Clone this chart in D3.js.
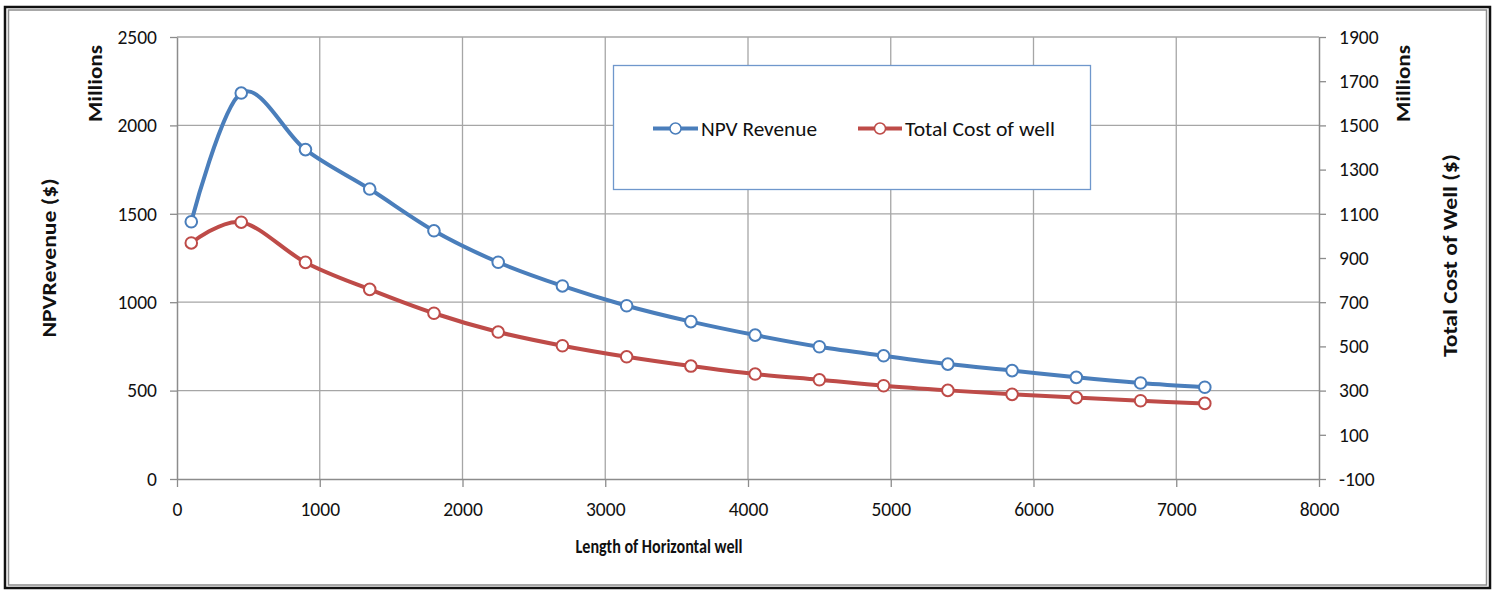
<!DOCTYPE html>
<html>
<head>
<meta charset="utf-8">
<script src="https://cdn.jsdelivr.net/npm/d3@7"></script>
<style>
  html, body { margin: 0; padding: 0; background: #fff; }
  svg { display: block; }
  text { font-family: Carlito, Calibri, Lato, "Open Sans", sans-serif; fill: #111; }
</style>
</head>
<body>
<svg id="chart" width="1495" height="590"></svg>
<script>
// ---- data ----
const lengths = [100, 450, 900, 1350, 1800, 2250, 2700, 3150, 3600, 4050, 4500, 4950, 5400, 5850, 6300, 6750, 7200];
const npvRevenue = [1455, 2183, 1863, 1640, 1404, 1226, 1092, 980, 890, 814, 748, 697, 650, 613, 575, 543, 519];
const totalCost = [968, 1062, 880, 758, 650, 565, 503, 453, 411, 375, 349, 322, 301, 283, 268, 254, 242];
const xTicks = [0, 1000, 2000, 3000, 4000, 5000, 6000, 7000, 8000];
const leftTicks = [0, 500, 1000, 1500, 2000, 2500];
const rightTicks = [-100, 100, 300, 500, 700, 900, 1100, 1300, 1500, 1700, 1900];
const seriesNames = ["NPV Revenue", "Total Cost of well"];
const seriesColors = ["#4a7ebb", "#be4b48"];

// ---- layout ----
const svg = d3.select("#chart");
const plot = { left: 177, right: 1319, top: 37, bottom: 479 };

const x = d3.scaleLinear().domain([0, 8000]).range([plot.left, plot.right]);
const yL = d3.scaleLinear().domain([0, 2500]).range([plot.bottom, plot.top]);
const yR = d3.scaleLinear().domain([-100, 1900]).range([plot.bottom, plot.top]);

// frame
svg.append("rect").attr("x", 5).attr("y", 7).attr("width", 1485).attr("height", 581)
  .attr("fill", "#fff").attr("stroke", "#111").attr("stroke-width", 2.5);
svg.append("rect").attr("x", 8.5).attr("y", 10).attr("width", 1478).attr("height", 575)
  .attr("fill", "none").attr("stroke", "#8c8c8c").attr("stroke-width", 1.5);

const gridColor = "#a6a6a6";
const axisColor = "#8c8c8c";

// gridlines
const grid = svg.append("g");
grid.selectAll(".hg").data(leftTicks.filter(d => d > 0)).join("line")
  .attr("x1", plot.left).attr("x2", plot.right)
  .attr("y1", d => yL(d)).attr("y2", d => yL(d))
  .attr("stroke", gridColor).attr("stroke-width", 1.3);
grid.selectAll(".vg").data(xTicks.filter(d => d > 0 && d < 8000)).join("line")
  .attr("x1", d => x(d)).attr("x2", d => x(d))
  .attr("y1", plot.top).attr("y2", plot.bottom)
  .attr("stroke", gridColor).attr("stroke-width", 1.3);

// axes
const fmt = d => String(d);
function styleAxis(g) {
  g.selectAll(".domain").attr("stroke", axisColor).attr("stroke-width", 1.5);
  g.selectAll(".tick line").attr("stroke", axisColor).attr("stroke-width", 1.3);
  g.selectAll(".tick text").attr("font-size", 19.5).attr("fill", "#111")
    .style("font-family", "Carlito, Calibri, Lato, sans-serif");
}
const gx = svg.append("g").attr("transform", `translate(0,${plot.bottom})`)
  .call(d3.axisBottom(x).tickValues(xTicks).tickFormat(fmt).tickSize(8).tickSizeOuter(0).tickPadding(15));
styleAxis(gx);
const gl = svg.append("g").attr("transform", `translate(${plot.left},0)`)
  .call(d3.axisLeft(yL).tickValues(leftTicks).tickFormat(fmt).tickSize(7).tickSizeOuter(0).tickPadding(13));
styleAxis(gl);
const gr = svg.append("g").attr("transform", `translate(${plot.right},0)`)
  .call(d3.axisRight(yR).tickValues(rightTicks).tickFormat(fmt).tickSize(7).tickSizeOuter(0).tickPadding(13));
styleAxis(gr);

// axis titles
function title(tx, ty, rot, txt, len, size) {
  svg.append("text").attr("transform", `translate(${tx},${ty}) rotate(${rot})`)
    .attr("text-anchor", "middle").attr("font-size", size).attr("font-weight", "bold")
    .attr("textLength", len).attr("lengthAdjust", "spacingAndGlyphs").text(txt);
}
title(102, 83.5, -90, "Millions", 77, 20);
title(56, 258, -90, "NPVRevenue ($)", 159, 20);
title(1410, 83.5, -90, "Millions", 77, 20);
title(1457, 255.5, -90, "Total Cost of Well ($)", 203, 20);
title(659, 552.5, 0, "Length of Horizontal well", 167, 20.5);

// series
const series = [
  { name: seriesNames[0], color: seriesColors[0], y: yL, values: npvRevenue },
  { name: seriesNames[1], color: seriesColors[1], y: yR, values: totalCost }
];
const curve = d3.curveCatmullRom.alpha(0);
series.forEach(s => {
  const pts = lengths.map((l, i) => [l, s.values[i]]);
  const line = d3.line().x(d => x(d[0])).y(d => s.y(d[1])).curve(curve);
  svg.append("path").datum(pts).attr("d", line)
    .attr("fill", "none").attr("stroke", s.color).attr("stroke-width", 4)
    .attr("stroke-linejoin", "round").attr("stroke-linecap", "round");
  svg.append("g").selectAll("circle").data(pts).join("circle")
    .attr("cx", d => x(d[0])).attr("cy", d => s.y(d[1])).attr("r", 5.8)
    .attr("fill", "#fff").attr("stroke", s.color).attr("stroke-width", 2);
});

// legend
const lg = svg.append("g");
lg.append("rect").attr("x", 613.5).attr("y", 65.5).attr("width", 477).attr("height", 124)
  .attr("fill", "#fff").attr("stroke", "#6f97cc").attr("stroke-width", 1.3);
const legendItems = [
  { x0: 653, x1: 698, tx: 701, len: 116 },
  { x0: 858, x1: 902, tx: 905, len: 150 }
];
series.forEach((s, i) => {
  const it = legendItems[i];
  const ly = 128.5;
  lg.append("line").attr("x1", it.x0).attr("x2", it.x1).attr("y1", ly).attr("y2", ly)
    .attr("stroke", s.color).attr("stroke-width", 4);
  lg.append("circle").attr("cx", (it.x0 + it.x1) / 2).attr("cy", ly).attr("r", 5.5)
    .attr("fill", "#fff").attr("stroke", s.color).attr("stroke-width", 1.5);
  lg.append("text").attr("x", it.tx).attr("y", ly + 7).attr("font-size", 21)
    .attr("textLength", it.len).attr("lengthAdjust", "spacingAndGlyphs").text(s.name);
});
</script>
</body>
</html>
